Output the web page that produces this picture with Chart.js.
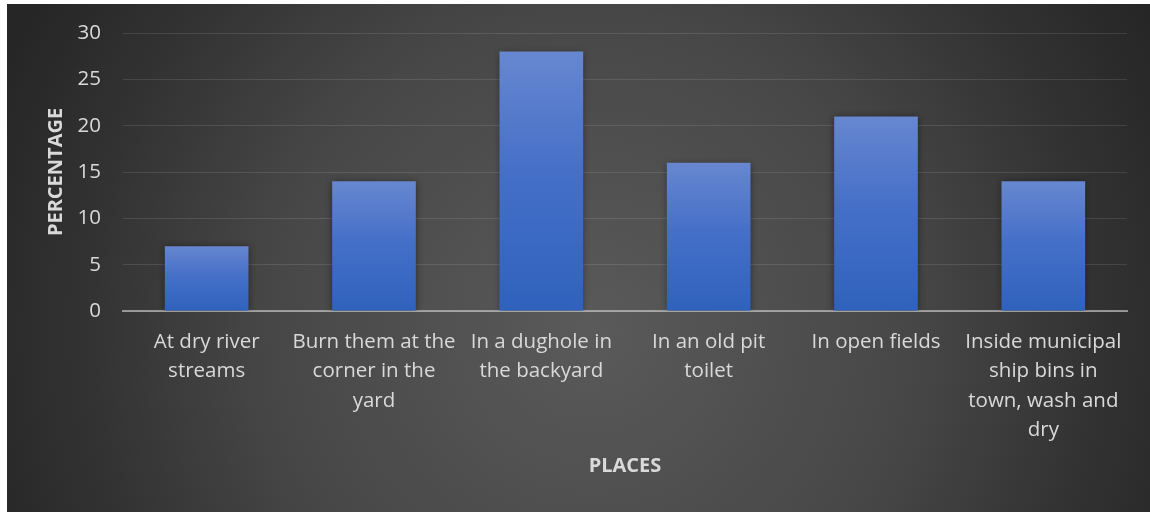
<!DOCTYPE html>
<html>
<head>
<meta charset="utf-8">
<script src="https://cdn.jsdelivr.net/npm/chart.js@4.4.1/dist/chart.umd.min.js"></script>
<style>
  html, body { margin: 0; padding: 0; background: #ffffff; }
  #frame {
    position: absolute; left: 7px; top: 4px; width: 1143px; height: 508px;
    background: radial-gradient(circle 640px at 583px 326px, #5a5a5a 0%, #474747 50%, #333333 78%, #262626 100%);
  }
  #frame canvas { display: block; }
</style>
</head>
<body>
<div id="frame"><canvas id="chart" width="1143" height="508"></canvas></div>
<script>
// Where respondents dispose of used items, share of answers
const categories = [
  ["At dry river", "streams"],
  ["Burn them at the", "corner in the", "yard"],
  ["In a dughole in", "the backyard"],
  ["In an old pit", "toilet"],
  ["In open fields"],
  ["Inside municipal", "ship bins in", "town, wash and", "dry"]
];
const percentages = [7, 14, 28, 16, 21, 14];
const yTicks = [0, 5, 10, 15, 20, 25, 30];

const textColor = '#d9d9d9';
const fontFamily = "'Open Sans', Lato, sans-serif";

// Vertical blue gradient per bar, lighter at the top
function barFill(ctx) {
  const chart = ctx.chart;
  if (!chart.chartArea || ctx.raw == null) return '#3d6cc4';
  const y = chart.scales.y;
  const top = y.getPixelForValue(ctx.raw);
  const base = y.getPixelForValue(0);
  if (!isFinite(top) || !isFinite(base) || top === base) return '#3d6cc4';
  const g = chart.ctx.createLinearGradient(0, top, 0, base);
  g.addColorStop(0, '#6787d0');
  g.addColorStop(0.45, '#4670c8');
  g.addColorStop(1, '#2f62bd');
  return g;
}

// Soft shadow behind the bars
const barShadow = {
  id: 'barShadow',
  beforeDatasetsDraw(chart) {
    const c = chart.ctx;
    c.save();
    c.shadowColor = 'rgba(0,0,0,0.45)';
    c.shadowBlur = 7;
    c.shadowOffsetX = 0;
    c.shadowOffsetY = 1;
  },
  afterDatasetsDraw(chart) {
    chart.ctx.restore();
  }
};

new Chart(document.getElementById('chart'), {
  type: 'bar',
  data: {
    labels: categories,
    datasets: [{
      data: percentages,
      backgroundColor: barFill,
      borderWidth: 0,
      categoryPercentage: 0.5,
      barPercentage: 1.0
    }]
  },
  options: {
    responsive: false,
    animation: false,
    layout: { padding: { top: 29, right: 23, bottom: 0, left: 0 } },
    plugins: {
      legend: { display: false },
      tooltip: { enabled: false }
    },
    scales: {
      x: {
        z: 1,
        grid: { display: false, drawTicks: false },
        border: { display: true, color: 'rgba(200,200,200,0.65)', width: 2 },
        ticks: {
          color: textColor,
          font: { family: fontFamily, size: 20.5, lineHeight: 1.44 },
          maxRotation: 0,
          autoSkip: false,
          padding: 16
        },
        title: {
          display: true,
          text: 'PLACES',
          color: textColor,
          font: { family: fontFamily, size: 20, weight: 'bold' },
          padding: { top: 0, bottom: 34 }
        },
        afterFit(scale) { scale.height = 201; }
      },
      y: {
        min: 0,
        max: 30,
        afterBuildTicks(scale) { scale.ticks = yTicks.map(v => ({ value: v })); },
        grid: { color: 'rgba(255,255,255,0.11)', lineWidth: 1, drawTicks: false },
        border: { display: false },
        ticks: {
          color: textColor,
          font: { family: fontFamily, size: 20.5 },
          padding: 22
        },
        title: {
          display: true,
          text: 'PERCENTAGE',
          color: textColor,
          font: { family: fontFamily, size: 20, weight: 'bold' },
          padding: { top: 37, bottom: 0 }
        },
        afterFit(scale) {
          scale.width = 116;
          scale.paddingTop = 0;
          scale.paddingBottom = 0;
        }
      }
    }
  },
  plugins: [barShadow]
});
</script>
</body>
</html>
